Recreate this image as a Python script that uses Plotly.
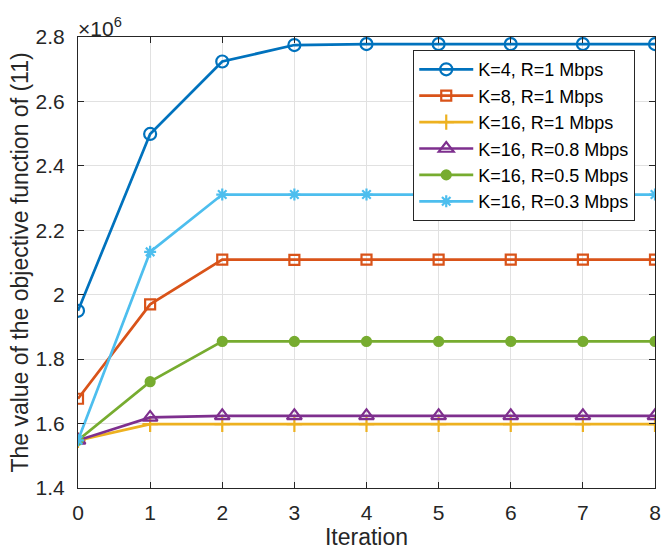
import plotly.graph_objects as go

# Values in units of 1e6 (axis shows ×10^6)
iterations = [0, 1, 2, 3, 4, 5, 6, 7, 8]
series_names = [
    "K=4, R=1 Mbps",
    "K=8, R=1 Mbps",
    "K=16, R=1 Mbps",
    "K=16, R=0.8 Mbps",
    "K=16, R=0.5 Mbps",
    "K=16, R=0.3 Mbps",
]
k4_r1 = [1.950, 2.499, 2.724, 2.775, 2.778, 2.778, 2.778, 2.778, 2.778]
k8_r1 = [1.677, 1.970, 2.109, 2.108, 2.109, 2.109, 2.109, 2.109, 2.109]
k16_r1 = [1.548, 1.598, 1.598, 1.598, 1.598, 1.598, 1.598, 1.598, 1.598]
k16_r08 = [1.548, 1.619, 1.624, 1.624, 1.624, 1.624, 1.624, 1.624, 1.624]
k16_r05 = [1.548, 1.730, 1.855, 1.855, 1.855, 1.855, 1.855, 1.855, 1.855]
k16_r03 = [1.548, 2.133, 2.311, 2.311, 2.311, 2.311, 2.311, 2.311, 2.311]

y_tickvals = [1.4, 1.6, 1.8, 2.0, 2.2, 2.4, 2.6, 2.8]
y_ticktext = ["1.4", "1.6", "1.8", "2", "2.2", "2.4", "2.6", "2.8"]

series = [k4_r1, k8_r1, k16_r1, k16_r08, k16_r05, k16_r03]
colors = ["#0072BD", "#D95319", "#EDB120", "#7E2F8E", "#77AC30", "#4DBEEE"]
symbols = ["circle-open", "square-open", "cross-thin-open", "triangle-up-open",
           "circle", "asterisk-open"]
sizes = [12, 10, 11, 13, 9, 10]

FONT = "Liberation Sans, Arial, sans-serif"
AXC = "#262626"

fig = go.Figure()
for name, ys, c, s, sz in zip(series_names, series, colors, symbols, sizes):
    fig.add_trace(go.Scatter(
        x=iterations, y=ys, name=name, mode="lines+markers",
        line=dict(color=c, width=2.7),
        marker=dict(symbol=s, size=sz, color=c, line=dict(color=c, width=2.2)),
    ))

axis_common = dict(
    showline=True, linecolor=AXC, linewidth=1, mirror="ticks",
    ticks="inside", ticklen=6, tickcolor=AXC, tickwidth=1,
    showgrid=True, gridcolor="#e1e1e1", gridwidth=1, automargin=False,
    zeroline=False, tickfont=dict(family=FONT, size=21, color=AXC),
)

fig.update_xaxes(range=[0, 8], tickvals=iterations, ticklabelstandoff=6, **axis_common,
                 title=dict(text="Iteration", font=dict(family=FONT, size=23, color=AXC),
                            standoff=4))
fig.update_yaxes(range=[1.4, 2.8], tickvals=y_tickvals, ticktext=y_ticktext,
                 ticklabelstandoff=8, **axis_common,
                 title=dict(text="The value of the objective function of (11)",
                            font=dict(family=FONT, size=23, color=AXC), standoff=0))

fig.add_annotation(xref="paper", yref="paper", x=0.0, y=1.0, xanchor="left", yanchor="bottom",
                   text="×10<sup>6</sup>", showarrow=False, yshift=-5, xshift=-2,
                   font=dict(family=FONT, size=21, color=AXC))

fig.update_layout(
    width=663, height=552,
    margin=dict(l=78, r=8, t=37, b=64),
    paper_bgcolor="white", plot_bgcolor="white",
    font=dict(family=FONT, color=AXC),
    legend=dict(x=0.581, y=0.971, xanchor="left", yanchor="top",
                bgcolor="white", bordercolor=AXC, borderwidth=1,
                font=dict(family=FONT, size=18, color="black"),
                itemwidth=54, tracegroupgap=0),
    showlegend=True,
)

fig.write_html("out.html", config={"displayModeBar": False},
               post_script="document.body.style.margin='0';document.body.style.overflow='hidden';")
